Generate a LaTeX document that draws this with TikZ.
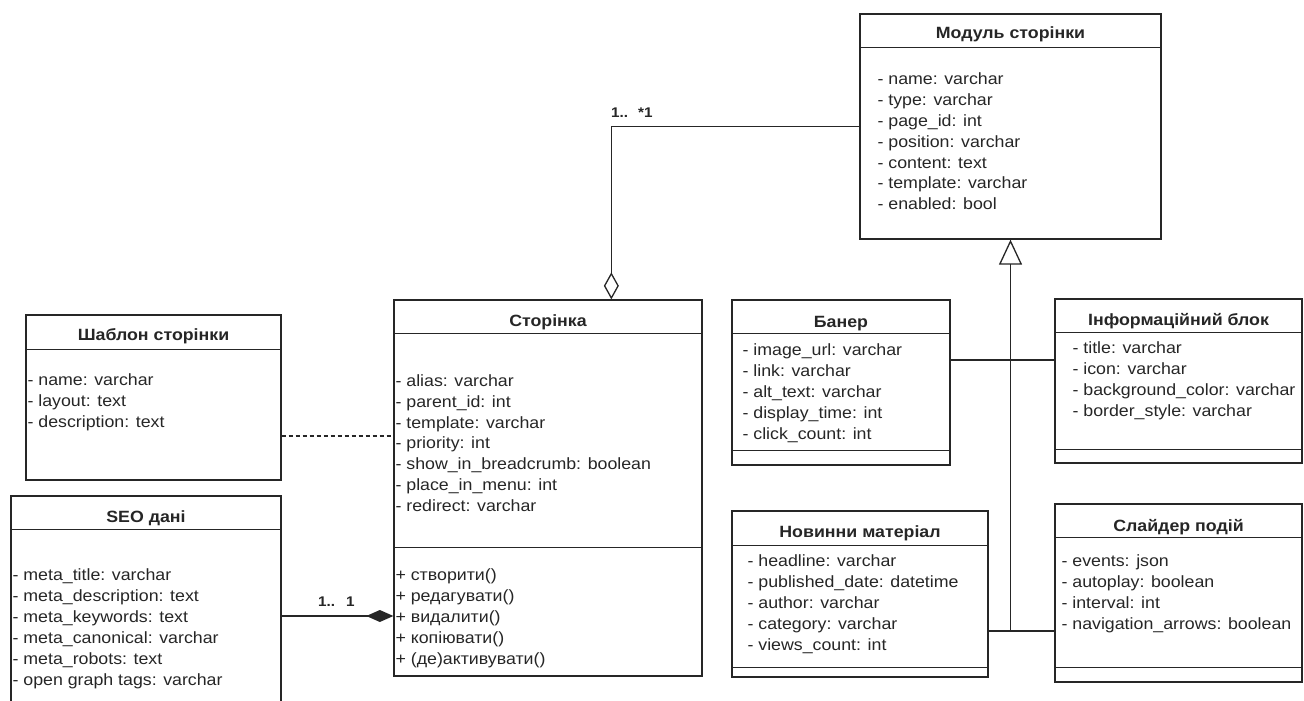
\documentclass[tikz,border=0pt]{standalone}
\usepackage{fontspec}
\setmainfont{Liberation Sans}[FakeStretch=1.09]
\usetikzlibrary{arrows.meta,calc}
\definecolor{ink}{HTML}{262626}

% horizontal compartment rule inside a class box, #2 = offset from its top
\newcommand\classsep[2]{\draw[rule] ($(#1.north west)+(0,#2)$) -- ($(#1.north east)+(0,#2)$);}

\begin{document}
\begin{tikzpicture}[x=1pt,y=-1pt,
  cls/.style={draw=ink, line width=1.3pt, rectangle, inner sep=0pt, fill=white},
  rule/.style={draw=ink, line width=1.3pt},
  conn/.style={draw=ink, line width=1.3pt},
  attr/.style={anchor=base west, inner sep=0pt, text=ink, font=\fontsize{16.3}{20.7}\selectfont},
  ttl/.style={anchor=base, inner sep=0pt, text=ink, font=\bfseries\fontsize{16.3}{20.7}\selectfont},
  mult/.style={anchor=west, inner sep=0pt, text=ink, font=\bfseries\fontsize{14}{16}\selectfont}]
\useasboundingbox (0,0) rectangle (1304,701);
\clip (0,0) rectangle (1304,701);
\fill[white] (0,0) rectangle (1304,701);

% ---------- class boxes ----------
\node[cls, minimum width=301pt, minimum height=225pt] (modul)  at (1010.5,126.5) {};
\node[cls, minimum width=308pt, minimum height=376pt] (page)   at (548,488) {};
\node[cls, minimum width=255pt, minimum height=165pt] (tmpl)   at (153.5,397.5) {};
\node[cls, minimum width=270pt, minimum height=224pt] (seo)    at (146,608) {};
\node[cls, minimum width=218pt, minimum height=165pt] (baner)  at (841,382.5) {};
\node[cls, minimum width=247pt, minimum height=164pt] (info)   at (1178.5,381) {};
\node[cls, minimum width=256pt, minimum height=166pt] (news)   at (860,594) {};
\node[cls, minimum width=247pt, minimum height=178pt] (slider) at (1178.5,593) {};

% ---------- compartments ----------
\classsep{modul}{34}
\classsep{page}{34}  \classsep{page}{248}
\classsep{tmpl}{35}
\classsep{seo}{34}
\classsep{baner}{34} \classsep{baner}{151}
\classsep{info}{34}  \classsep{info}{151}
\classsep{news}{35}  \classsep{news}{157}
\classsep{slider}{34} \classsep{slider}{164}

% ---------- titles ----------
\node[ttl] (modul-t)  at ($(modul.north)+(0,25)$)  {Модуль сторінки};
\node[ttl] (page-t)   at ($(page.north)+(0,27)$)   {Сторінка};
\node[ttl] (tmpl-t)   at ($(tmpl.north)+(0,26)$)   {Шаблон сторінки};
\node[ttl] (seo-t)    at ($(seo.north)+(0,27)$)    {SEO дані};
\node[ttl] (baner-t)  at ($(baner.north)+(0,28)$)  {Банер};
\node[ttl] (info-t)   at ($(info.north)+(0,27)$)   {Інформаційний блок};
\node[ttl] (news-t)   at ($(news.north)+(0,27)$)   {Новинни матеріал};
\node[ttl] (slider-t) at ($(slider.north)+(0,28)$) {Слайдер подій};

% ---------- attributes and operations ----------
\foreach [count=\i] \txt in {- name: varchar, - type: varchar, - page\_id: int, - position: varchar, - content: text, - template: varchar, - enabled: bool}
  \node[attr] (modul-a\i) at ($(modul.north west)+(18,{71.5+20.8*(\i-1)})$) {\txt};

\foreach [count=\i] \txt in {- alias: varchar, - parent\_id: int, - template: varchar, - priority: int, - show\_in\_breadcrumb: boolean, - place\_in\_menu: int, - redirect: varchar}
  \node[attr] (page-a\i) at ($(page.north west)+(2,{87.5+20.7*(\i-1)})$) {\txt};

\foreach [count=\i] \txt in {+ створити(), + редагувати(), + видалити(), + копіювати(), + (де)активувати()}
  \node[attr] (page-o\i) at ($(page.north west)+(2,{281.5+21*(\i-1)})$) {\txt};

\foreach [count=\i] \txt in {- name: varchar, - layout: text, - description: text}
  \node[attr] (tmpl-a\i) at ($(tmpl.north west)+(2,{71.5+20.8*(\i-1)})$) {\txt};

\foreach [count=\i] \txt in {- meta\_title: varchar, - meta\_description: text, - meta\_keywords: text, - meta\_canonical: varchar, - meta\_robots: text, - open graph tags: varchar}
  \node[attr] (seo-a\i) at ($(seo.north west)+(2,{85.5+21*(\i-1)})$) {\txt};

\foreach [count=\i] \txt in {- image\_url: varchar, - link: varchar, - alt\_text: varchar, - display\_time: int, - click\_count: int}
  \node[attr] (baner-a\i) at ($(baner.north west)+(11,{56.5+20.8*(\i-1)})$) {\txt};

\foreach [count=\i] \txt in {- title: varchar, - icon: varchar, - background\_color: varchar, - border\_style: varchar}
  \node[attr] (info-a\i) at ($(info.north west)+(18,{55.5+21*(\i-1)})$) {\txt};

\foreach [count=\i] \txt in {- headline: varchar, - published\_date: datetime, - author: varchar, - category: varchar, - views\_count: int}
  \node[attr] (news-a\i) at ($(news.north west)+(16,{56.5+20.8*(\i-1)})$) {\txt};

\foreach [count=\i] \txt in {- events: json, - autoplay: boolean, - interval: int, - navigation\_arrows: boolean}
  \node[attr] (slider-a\i) at ($(slider.north west)+(7,{63.5+20.8*(\i-1)})$) {\txt};

% ---------- connectors ----------
% aggregation: page modules belong to a page
\draw[conn, {Diamond[open,length=27pt,width=15pt]}-] ($(page.north west)+(218,0)$) |- (modul.west);
\node[mult] (mult-agg) at (611,113) {1..\hspace{10pt}*1};

% composition: SEO data of a page
\coordinate (compy) at (0,616);
\draw[conn, -{Diamond[length=27pt,width=12pt]}] (seo.east |- compy) -- (page.west |- compy);
\node[mult] (mult-comp) at (318,602) {1..\hspace{11pt}1};

% dependency on the page template
\coordinate (depy) at (0,436);
\draw[conn, dash pattern=on 4pt off 3pt] (tmpl.east |- depy) -- (page.west |- depy);

% generalisation of the module kinds
\coordinate (jn) at (1010.5,631);
\coordinate (bany) at (0,360);
\draw[conn, -{Triangle[open,length=25pt,width=23pt]}] (jn) -- (modul.south);
\draw[conn] (baner.east |- bany) -- (info.west |- bany);
\draw[conn] (news.east |- jn) -- (slider.west |- jn);
\end{tikzpicture}
\end{document}
